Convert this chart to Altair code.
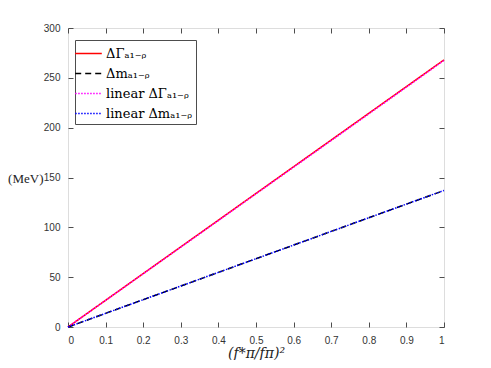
import altair as alt
import pandas as pd

x_vals = [0.0, 0.1, 0.2, 0.3, 0.4, 0.5, 0.6, 0.7, 0.8, 0.9, 1.0]
gamma = [0.0, 26.8, 53.6, 80.4, 107.2, 134.0, 160.8, 187.6, 214.4, 241.2, 268.0]
mass = [0.0, 13.7, 27.4, 41.1, 54.8, 68.5, 82.2, 95.9, 109.6, 123.3, 137.0]
gamma_lin = [0.0, 26.7, 53.4, 80.1, 106.8, 133.6, 160.3, 187.0, 213.8, 240.6, 267.5]
mass_lin = [0.0, 13.7, 27.4, 41.1, 54.8, 68.5, 82.2, 95.9, 109.6, 123.3, 137.0]

names = ["ΔΓₐ₁₋ᵨ", "Δmₐ₁₋ᵨ", "linear ΔΓₐ₁₋ᵨ", "linear Δmₐ₁₋ᵨ"]
colors = ["#ff0000", "#000000", "#ff00ff", "#0000ff"]
dashes = [[1, 0], [6, 4], [1.5, 1.5], [1.5, 1.5]]
x_ticks = [0, 0.1, 0.2, 0.3, 0.4, 0.5, 0.6, 0.7, 0.8, 0.9, 1]
y_ticks = [0, 50, 100, 150, 200, 250, 300]

rows = []
for name, ys in zip(names, [gamma, mass, gamma_lin, mass_lin]):
    for xv, yv in zip(x_vals, ys):
        rows.append({"x": xv, "y": yv, "series": name})
df = pd.DataFrame(rows)

AX = "#4d4d4d"
xs = alt.Scale(domain=[0, 1], nice=False, zero=False)
ys = alt.Scale(domain=[0, 300], nice=False, zero=False)
cs = alt.Scale(domain=names, range=colors)
ds = alt.Scale(domain=names, range=dashes)

legend = alt.Legend(
    title=None, orient="none", legendX=7, legendY=12,
    strokeColor=AX, fillColor="white", padding=3,
    symbolType="M-1.4,0H1.4", symbolSize=361, symbolStrokeWidth=1.5,
    labelFont="DejaVu Serif", labelFontSize=13, labelColor="black",
    rowPadding=2, labelOffset=7,
)

bottom_axis = alt.Axis(
    values=x_ticks, format="~g", offset=-5, tickSize=5, domain=False, grid=False,
    tickColor=AX, labelColor="#333", labelFont="Liberation Sans", labelFontSize=10,
    labelPadding=8, title="(f*π/fπ)²", titleFont="DejaVu Serif", titleFontSize=14,
    titleFontStyle="italic",
    titleFontWeight="normal", titleColor="#222", titlePadding=1,
)
left_axis = alt.Axis(
    values=y_ticks, offset=-5, tickSize=5, domain=False, grid=False,
    tickColor=AX, labelColor="#333", labelFont="Liberation Sans", labelFontSize=10,
    labelPadding=8, title="(MeV)", titleFont="Liberation Serif", titleFontSize=13,
    titleFontWeight="normal", titleColor="#222", titleAngle=0, titleAlign="right",
    titleBaseline="middle", titleX=-30, titleY=150,
)
top_axis = alt.Axis(values=x_ticks, orient="top", offset=-5, tickSize=5, domain=False,
                    grid=False, labels=False, title=None, tickColor=AX)
right_axis = alt.Axis(values=y_ticks, orient="right", offset=-5, tickSize=5, domain=False,
                      grid=False, labels=False, title=None, tickColor=AX)

layers = []
for i, name in enumerate(names):
    ch = alt.Chart(df).transform_filter(alt.datum.series == name).mark_line(strokeWidth=1.5).encode(
        x=alt.X("x:Q", scale=xs, axis=bottom_axis if i == 0 else None),
        y=alt.Y("y:Q", scale=ys, axis=left_axis if i == 0 else None),
        color=alt.Color("series:N", scale=cs, legend=legend),
        strokeDash=alt.StrokeDash("series:N", scale=ds, legend=legend),
    )
    layers.append(ch)

frame = alt.Chart(df).mark_point(opacity=0).encode(
    x=alt.X("x:Q", scale=xs, axis=top_axis),
    y=alt.Y("y:Q", scale=ys, axis=right_axis),
)

chart = alt.layer(*layers, frame).resolve_axis(x="independent", y="independent").properties(
    width=376, height=299,
    autosize=alt.AutoSizeParams(type="none"),
    padding={"left": 60, "top": 20, "right": 39, "bottom": 33},
).configure_view(stroke=AX, strokeWidth=1).configure(background="white")

chart.save("out.html", embed_options={"renderer": "svg", "actions": False})
